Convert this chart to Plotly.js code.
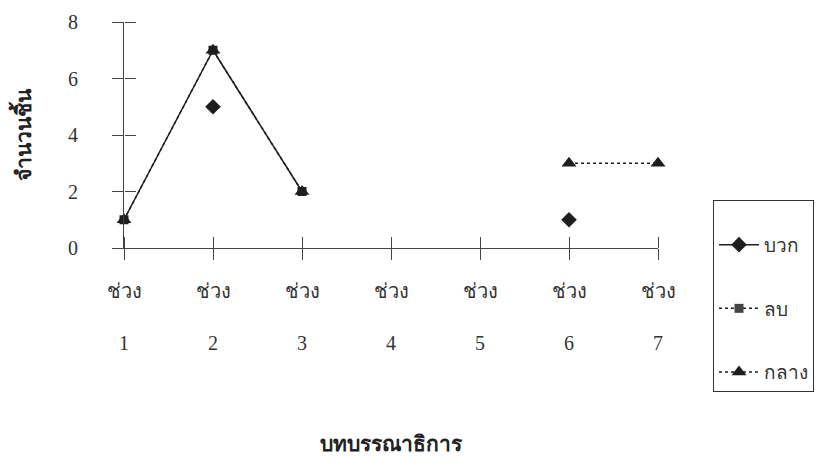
<!DOCTYPE html>
<html><head><meta charset="utf-8">
<script src="https://cdn.plot.ly/plotly-3.0.1.min.js"></script>
<style>html,body{margin:0;padding:0;background:#fff}#c{width:840px;height:469px}</style>
</head><body><div id="c"></div>
<script>
const categories = [1, 2, 3, 4, 5, 6, 7];
const tickLabels = ['ช่วง<br><br>1','ช่วง<br><br>2','ช่วง<br><br>3','ช่วง<br><br>4','ช่วง<br><br>5','ช่วง<br><br>6','ช่วง<br><br>7'];
const positive = [null, 5, null, null, null, 1, null];   // บวก
const negative = [1, 7, 2, null, null, null, null];      // ลบ
const neutral  = [1, 7, 2, null, null, 3, 3];            // กลาง
const yTicks = [0, 2, 4, 6, 8];

const ink = '#1e1e1e';
const serif = '"Liberation Serif", "Times New Roman", serif';

const traces = [
  {x: categories, y: positive, name: 'บวก', mode: 'lines+markers', legendgroup: 'a',
   line: {color: ink, width: 1.5}, marker: {symbol: 'diamond', size: 12, color: ink}, cliponaxis: false},
  // legend entry for ลบ (dotted line, square marker)
  {x: [null], y: [null], name: 'ลบ', mode: 'lines+markers', legendgroup: 'b',
   line: {color: ink, width: 1.5, dash: 'dot'}, marker: {symbol: 'square', size: 9, color: '#444'}},
  {x: categories, y: negative, name: 'ลบ', mode: 'lines+markers', showlegend: false, legendgroup: 'b',
   line: {color: ink, width: 1.5}, marker: {symbol: 'square', size: 9, color: ink}, cliponaxis: false},
  {x: categories, y: neutral, name: 'กลาง', mode: 'lines+markers', legendgroup: 'c',
   line: {color: ink, width: 1.5, dash: 'dot'}, marker: {symbol: 'triangle-up', size: 13, color: ink}, cliponaxis: false},
  // carrier for the overlay axes that draw the inner half of the crossing ticks
  {x: categories, y: neutral, xaxis: 'x2', yaxis: 'y2', mode: 'markers', showlegend: false,
   hoverinfo: 'skip', marker: {opacity: 0}}
];

const layout = {
  width: 840, height: 469,
  margin: {l: 124, r: 182, t: 22, b: 221},
  paper_bgcolor: '#fff', plot_bgcolor: 'rgba(0,0,0,0)',
  font: {family: serif, color: '#333', size: 19},
  showlegend: true,
  xaxis: {
    range: [1, 7], tickvals: categories, ticktext: tickLabels,
    showgrid: false, zeroline: false, showline: true, linecolor: '#444', linewidth: 1,
    ticks: 'outside', ticklen: 11, tickcolor: '#444', tickwidth: 1,
    ticklabelstandoff: 14,
    tickfont: {family: serif, size: 20, color: '#333'},
    title: {text: 'บทบรรณาธิการ', font: {family: serif, size: 21, color: '#222', weight: 'bold'}, standoff: 83}
  },
  yaxis: {
    range: [0, 8], tickvals: yTicks,
    showgrid: false, zeroline: false, showline: true, linecolor: '#444', linewidth: 1,
    ticks: 'outside', ticklen: 11, tickcolor: '#444', tickwidth: 1,
    ticklabelstandoff: 30,
    tickfont: {family: serif, size: 20, color: '#333'},
    title: {text: 'จำนวนชิ้น', font: {family: serif, size: 21, color: '#222', weight: 'bold'}, standoff: 30}
  },
  xaxis2: {overlaying: 'x', anchor: 'free', position: 0, side: 'top', range: [1, 7], tickvals: categories,
    showticklabels: false, ticks: 'outside', ticklen: 11, tickcolor: '#444', tickwidth: 1,
    showgrid: false, zeroline: false, showline: false},
  yaxis2: {overlaying: 'y', anchor: 'free', position: 0, side: 'right', range: [0, 8], tickvals: yTicks,
    showticklabels: false, ticks: 'outside', ticklen: 11, tickcolor: '#444', tickwidth: 1,
    showgrid: false, zeroline: false, showline: false},
  legend: {
    x: 1.103, y: 0.212, xanchor: 'left', yanchor: 'top',
    bordercolor: '#333', borderwidth: 1, bgcolor: '#fff',
    font: {family: serif, size: 19, color: '#333'},
    title: {text: '\u00a0', font: {size: 19}},
    traceorder: 'grouped', itemwidth: 40, tracegroupgap: 36
  }
};

Plotly.newPlot('c', traces, layout, {displayModeBar: false, staticPlot: true});
</script>
</body></html>
